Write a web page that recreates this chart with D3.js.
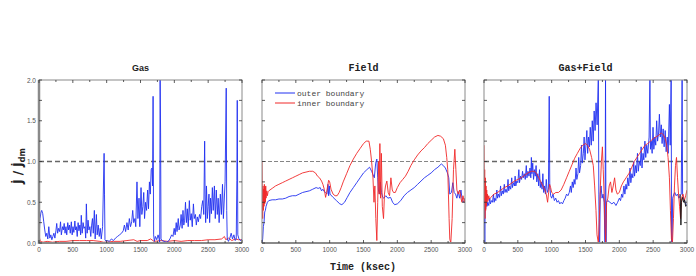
<!DOCTYPE html>
<html>
<head>
<meta charset="utf-8">
<script src="https://cdn.jsdelivr.net/npm/d3@7"></script>
<style>
  body { margin: 0; background: #fff; }
  svg { display: block; }
  .tick-lbl { font: 6.5px "Liberation Sans", sans-serif; fill: #555; }
  .mono { font-family: "Liberation Mono", "DejaVu Sans Mono", monospace; }
</style>
</head>
<body>
<svg id="chart"></svg>
<script>
// Gas/Field/Gas+Field accretion rate ratios
const xTicks = [0, 500, 1000, 1500, 2000, 2500, 3000];
const yTicks = [0, 0.5, 1.0, 1.5, 2.0];
const titles = ["Gas", "Field", "Gas+Field"];
const legendLabels = ["outer boundary", "inner boundary"];

const gasOuter = [[0,0.05],[15,0.3],[30,0.38],[40,0.4],[55,0.36],[70,0.26],[85,0.16],[100,0.08],[115,0.12],[130,0.05],[145,0.2],[160,0.06],[175,0.1],[190,0.04],[205,0.08],[220,0.12],[235,0.06],[250,0.15],[262,0.24],[275,0.12],[290,0.18],[305,0.14],[318,0.26],[330,0.1],[348,0.2],[360,0.16],[372,0.24],[385,0.12],[398,0.2],[410,0.1],[425,0.25],[438,0.16],[450,0.22],[462,0.12],[478,0.26],[490,0.1],[502,0.2],[515,0.13],[530,0.27],[540,0.16],[552,0.2],[565,0.08],[578,0.25],[590,0.15],[604,0.22],[615,0.1],[625,0.34],[638,0.12],[652,0.25],[664,0.18],[680,0.2],[690,0.06],[700,0.48],[712,0.12],[725,0.28],[738,0.16],[752,0.2],[765,0.08],[778,0.22],[790,0.3],[802,0.12],[818,0.4],[830,0.05],[848,0.35],[860,0.1],[875,0.22],[890,0.08],[905,0.18],[920,0.05],[940,0.2],[962,1.1],[968,0.6],[975,0.04],[990,0.02],[1010,0.03],[1040,0.02],[1070,0.05],[1100,0.03],[1130,0.06],[1160,0.08],[1190,0.1],[1220,0.12],[1245,0.15],[1262,0.22],[1280,0.14],[1300,0.25],[1318,0.16],[1335,0.3],[1352,0.2],[1370,0.26],[1385,0.4],[1400,0.25],[1418,0.3],[1430,0.2],[1448,0.75],[1462,0.3],[1478,0.55],[1490,0.2],[1508,0.68],[1520,0.35],[1535,0.45],[1548,0.62],[1560,0.3],[1575,0.5],[1590,0.4],[1605,0.65],[1618,0.42],[1632,0.75],[1645,0.6],[1658,0.9],[1670,0.92],[1678,0.7],[1686,1.8],[1694,0.1],[1705,0.02],[1720,0.08],[1740,0.04],[1760,0.1],[1775,0.05],[1784,0.0],[1790,2.05],[1797,1.35],[1803,0.05],[1820,0.03],[1850,0.02],[1880,0.01],[1910,0.02],[1935,0.05],[1960,0.1],[1980,0.08],[1998,0.18],[2012,0.1],[2028,0.25],[2040,0.14],[2058,0.3],[2070,0.16],[2088,0.22],[2100,0.35],[2115,0.18],[2128,0.4],[2140,0.22],[2152,0.28],[2165,0.5],[2178,0.25],[2192,0.42],[2205,0.2],[2222,0.52],[2235,0.28],[2250,0.36],[2265,0.2],[2282,0.48],[2295,0.3],[2312,0.35],[2325,0.22],[2340,0.32],[2355,0.26],[2372,0.35],[2388,0.3],[2405,0.45],[2420,0.52],[2435,0.35],[2448,1.25],[2455,0.6],[2463,0.25],[2475,0.7],[2488,0.3],[2500,0.45],[2512,0.6],[2522,0.25],[2535,0.55],[2548,0.36],[2562,0.68],[2575,0.4],[2592,0.7],[2605,0.3],[2620,0.65],[2635,0.35],[2648,0.55],[2662,0.25],[2680,0.6],[2695,0.35],[2712,0.72],[2725,0.3],[2750,0.75],[2767,1.9],[2774,0.4],[2782,0.05],[2800,0.02],[2820,0.06],[2840,0.12],[2860,0.05],[2880,0.1],[2900,0.03],[2915,0.05],[2924,0.77],[2930,1.75],[2938,0.1],[2955,0.05],[2978,0.03],[3000,0.05]];
const gasInner = [[0,0.28],[8,0.06],[20,0.02],[60,0.01],[120,0.02],[200,0.01],[300,0.02],[400,0.02],[500,0.03],[600,0.03],[700,0.03],[800,0.03],[900,0.02],[950,0.01],[1000,0.01],[1100,0.02],[1200,0.02],[1300,0.03],[1400,0.04],[1450,0.02],[1500,0.03],[1600,0.03],[1650,0.05],[1700,0.02],[1800,0.03],[1900,0.02],[2000,0.03],[2100,0.02],[2200,0.03],[2300,0.03],[2400,0.03],[2500,0.04],[2600,0.04],[2700,0.05],[2740,0.08],[2760,0.04],[2800,0.06],[2850,0.03],[2900,0.05],[2950,0.04],[3000,0.04]];

const fieldOuter = [[0,0.0],[10,0.05],[20,0.2],[30,0.25],[40,0.38],[50,0.4],[60,0.45],[80,0.5],[100,0.52],[150,0.53],[200,0.53],[250,0.54],[300,0.54],[350,0.55],[400,0.57],[450,0.58],[500,0.58],[550,0.6],[600,0.62],[650,0.63],[700,0.64],[750,0.66],[800,0.68],[830,0.67],[860,0.68],[880,0.64],[900,0.66],[920,0.63],[940,0.62],[960,0.6],[975,0.72],[985,0.58],[995,0.7],[1005,0.6],[1050,0.56],[1100,0.52],[1150,0.48],[1180,0.47],[1220,0.5],[1260,0.56],[1300,0.62],[1350,0.68],[1400,0.74],[1450,0.8],[1500,0.86],[1550,0.9],[1590,0.93],[1620,0.88],[1640,0.84],[1660,0.8],[1680,0.98],[1697,1.03],[1710,0.8],[1720,0.65],[1735,0.6],[1750,0.75],[1765,0.62],[1785,0.56],[1800,0.55],[1830,0.58],[1860,0.55],[1900,0.56],[1930,0.5],[1960,0.47],[2000,0.48],[2050,0.52],[2100,0.58],[2150,0.62],[2200,0.65],[2250,0.68],[2300,0.72],[2350,0.76],[2400,0.8],[2450,0.83],[2500,0.86],[2550,0.9],[2600,0.93],[2650,0.97],[2680,0.95],[2710,0.92],[2740,0.86],[2760,0.8],[2775,0.6],[2800,0.62],[2820,0.74],[2840,0.62],[2860,0.6],[2880,0.55],[2900,0.63],[2920,0.55],[2940,0.65],[2960,0.52],[2980,0.5],[3000,0.55]];
const fieldInner = [[0,1.0],[5,0.6],[10,0.3],[15,0.7],[20,0.4],[25,0.66],[30,0.45],[35,0.72],[40,0.48],[45,0.68],[50,0.5],[55,0.7],[60,0.55],[70,0.64],[80,0.58],[90,0.63],[100,0.64],[150,0.67],[200,0.7],[250,0.72],[300,0.74],[350,0.76],[400,0.78],[450,0.8],[500,0.82],[550,0.84],[600,0.86],[650,0.87],[700,0.88],[750,0.88],[790,0.86],[820,0.82],[850,0.8],[880,0.76],[900,0.72],[920,0.66],[940,0.56],[955,0.62],[970,0.7],[985,0.77],[1000,0.75],[1020,0.66],[1050,0.6],[1080,0.58],[1110,0.58],[1140,0.62],[1170,0.68],[1200,0.75],[1250,0.85],[1300,0.95],[1350,1.03],[1400,1.1],[1450,1.16],[1500,1.22],[1540,1.25],[1580,1.25],[1600,1.15],[1620,1.0],[1640,0.8],[1655,0.5],[1668,0.7],[1682,0.3],[1697,0.03],[1710,0.5],[1722,1.0],[1732,0.6],[1742,1.22],[1752,0.55],[1764,1.1],[1778,0.45],[1796,0.3],[1810,0.6],[1825,0.7],[1845,0.76],[1865,0.62],[1885,0.58],[1905,0.8],[1925,0.65],[1944,0.62],[1970,0.62],[2000,0.68],[2040,0.74],[2080,0.78],[2120,0.82],[2160,0.88],[2200,0.95],[2250,1.02],[2300,1.08],[2350,1.13],[2400,1.17],[2450,1.22],[2500,1.26],[2550,1.3],[2600,1.32],[2640,1.31],[2680,1.28],[2710,1.2],[2730,1.05],[2745,0.9],[2755,0.6],[2765,0.3],[2775,0.05],[2790,0.0],[2810,0.3],[2830,0.9],[2850,1.15],[2865,0.9],[2880,0.65],[2900,0.6],[2920,0.65],[2940,0.55],[2955,0.5],[2970,0.58],[2990,0.5],[3000,0.55]];

const bothOuter = [[0,0.55],[6,0.4],[12,0.0],[18,0.5],[25,0.42],[35,0.58],[45,0.45],[55,0.5],[70,0.46],[85,0.55],[95,0.48],[110,0.52],[125,0.5],[140,0.6],[150,0.5],[160,0.55],[175,0.52],[190,0.65],[200,0.55],[215,0.6],[230,0.56],[245,0.7],[255,0.58],[270,0.64],[285,0.6],[300,0.72],[310,0.62],[325,0.66],[340,0.62],[355,0.78],[365,0.64],[380,0.7],[395,0.66],[410,0.8],[420,0.68],[435,0.74],[450,0.7],[460,0.82],[470,0.7],[485,0.76],[500,0.74],[515,0.9],[525,0.74],[540,0.82],[555,0.78],[570,0.88],[580,0.8],[595,0.85],[610,0.78],[625,0.95],[635,0.8],[650,0.88],[665,0.82],[680,0.92],[692,0.8],[700,1.05],[708,0.85],[720,0.98],[732,0.78],[745,0.9],[758,0.82],[770,0.95],[780,0.75],[795,0.85],[808,0.7],[820,0.9],[832,0.68],[845,0.75],[858,0.66],[870,0.85],[882,0.62],[895,0.7],[908,0.6],[920,0.78],[935,0.62],[952,0.66],[964,1.8],[972,0.7],[985,0.58],[1000,0.55],[1020,0.6],[1040,0.52],[1060,0.55],[1080,0.5],[1100,0.52],[1120,0.48],[1140,0.5],[1160,0.48],[1180,0.52],[1200,0.55],[1220,0.6],[1240,0.58],[1260,0.62],[1278,0.7],[1290,0.62],[1305,0.75],[1318,0.68],[1332,0.78],[1345,0.72],[1360,0.92],[1372,0.78],[1388,0.85],[1400,1.05],[1412,0.86],[1428,0.95],[1440,1.2],[1452,0.98],[1468,1.1],[1480,1.3],[1492,1.02],[1508,1.22],[1520,1.38],[1532,1.1],[1545,1.3],[1558,1.18],[1570,1.42],[1585,1.2],[1600,1.5],[1614,1.25],[1628,1.62],[1642,1.38],[1656,1.72],[1672,1.45],[1690,2.05],[1697,0.6],[1703,0.0],[1710,0.0],[1718,0.6],[1730,0.7],[1745,0.55],[1760,0.6],[1775,0.5],[1788,0.0],[1796,2.05],[1803,0.0],[1810,0.5],[1830,0.52],[1860,0.5],[1890,0.48],[1920,0.5],[1950,0.46],[1975,0.5],[2000,0.55],[2018,0.52],[2035,0.6],[2050,0.56],[2068,0.7],[2082,0.6],[2098,0.72],[2110,0.66],[2125,0.8],[2140,0.7],[2158,0.92],[2170,0.74],[2185,0.85],[2200,0.8],[2212,1.0],[2225,0.82],[2240,0.95],[2252,0.86],[2268,1.1],[2280,0.88],[2295,1.0],[2310,0.95],[2322,1.18],[2335,0.92],[2350,1.1],[2362,1.02],[2378,1.25],[2390,1.05],[2405,1.2],[2420,1.1],[2440,1.3],[2452,2.05],[2460,1.15],[2472,1.25],[2485,1.1],[2498,1.42],[2510,1.15],[2525,1.3],[2538,1.2],[2552,1.5],[2565,1.25],[2580,1.35],[2592,1.58],[2605,1.3],[2620,1.45],[2632,1.22],[2648,1.4],[2662,1.18],[2678,1.38],[2692,1.12],[2708,1.3],[2722,1.1],[2740,1.7],[2752,1.2],[2766,2.05],[2772,0.0],[2780,0.0],[2788,0.55],[2805,0.6],[2820,0.62],[2840,0.58],[2860,0.6],[2880,0.55],[2900,0.58],[2915,0.6],[2928,2.05],[2935,0.6],[2950,0.55],[2970,0.5],[2985,0.48],[3000,0.45]];
const bothInner = [[0,1.2],[5,0.5],[10,0.9],[15,0.3],[20,0.8],[25,0.4],[30,0.7],[35,0.45],[40,0.65],[45,0.5],[50,0.6],[60,0.52],[70,0.58],[80,0.54],[100,0.56],[150,0.6],[200,0.62],[250,0.65],[300,0.68],[350,0.7],[400,0.73],[450,0.76],[500,0.78],[550,0.8],[600,0.83],[650,0.86],[700,0.88],[750,0.88],[780,0.85],[810,0.8],[840,0.75],[870,0.7],[900,0.65],[920,0.6],[940,0.5],[955,0.62],[970,0.72],[985,0.68],[1000,0.62],[1030,0.6],[1060,0.62],[1100,0.62],[1140,0.65],[1180,0.72],[1220,0.8],[1260,0.88],[1300,0.96],[1340,1.04],[1380,1.1],[1420,1.16],[1460,1.2],[1500,1.22],[1530,1.2],[1560,1.15],[1590,1.05],[1615,0.95],[1635,0.7],[1655,0.4],[1670,0.1],[1690,0.0],[1705,0.3],[1720,0.7],[1735,1.0],[1750,1.18],[1762,0.9],[1775,0.6],[1788,0.2],[1798,0.0],[1812,0.5],[1830,0.55],[1850,0.7],[1870,0.75],[1890,0.62],[1910,0.7],[1930,0.8],[1950,0.65],[1970,0.6],[2000,0.62],[2030,0.7],[2060,0.75],[2100,0.8],[2140,0.85],[2180,0.92],[2220,1.0],[2260,1.05],[2300,1.1],[2340,1.15],[2380,1.2],[2420,1.22],[2460,1.25],[2500,1.28],[2540,1.3],[2580,1.32],[2620,1.35],[2650,1.33],[2680,1.28],[2700,1.2],[2720,1.05],[2740,0.8],[2755,0.4],[2770,0.05],[2785,0.0],[2800,0.3],[2815,0.7],[2830,0.95],[2845,1.05],[2860,0.8],[2875,0.6],[2890,0.45],[2905,0.3],[2920,0.55],[2940,0.6],[2960,0.52],[2980,0.58],[3000,0.65]];
const bothTail = [[2895,0.6],[2902,0.55],[2910,0.22],[2918,0.5],[2935,0.56],[2950,0.5],[2965,0.53],[2980,0.45],[3000,0.47]];

const W = 696, H = 276;
const plotTop = 80, plotBottom = 243;
const panelLefts = [39, 262, 484];
const panelW = 203;
const blue = "#2030f0", red = "#f02828";

const svg = d3.select("#chart").attr("width", W).attr("height", H);

const y = d3.scaleLinear().domain([0, 2]).range([plotBottom, plotTop]);

const series = [
  [{ d: gasInner, c: red }, { d: gasOuter, c: blue }],
  [{ d: fieldOuter, c: blue }, { d: fieldInner, c: red }],
  [{ d: bothOuter, c: blue }, { d: bothInner, c: red }, { d: bothTail, c: "#111" }]
];

panelLefts.forEach((left, i) => {
  const x = d3.scaleLinear().domain([0, 3000]).range([left, left + panelW]);
  const g = svg.append("g");

  g.append("clipPath").attr("id", "clip" + i)
    .append("rect").attr("x", left).attr("y", plotTop).attr("width", panelW).attr("height", plotBottom - plotTop);

  // dashed reference line at 1.0
  g.append("line")
    .attr("x1", left).attr("x2", left + panelW)
    .attr("y1", y(1)).attr("y2", y(1))
    .attr("stroke", "#666")
    .attr("stroke-width", i === 1 ? 0.8 : 1.6)
    .attr("stroke-dasharray", i === 1 ? "4,2" : "5,3");

  const line = d3.line().x(d => x(d[0])).y(d => y(d[1]));
  const lines = g.append("g").attr("clip-path", `url(#clip${i})`);
  series[i].forEach(s => {
    lines.append("path")
      .attr("d", line(s.d))
      .attr("fill", "none")
      .attr("stroke", s.c)
      .attr("stroke-width", 0.9);
  });

  // frame
  g.append("rect")
    .attr("x", left).attr("y", plotTop).attr("width", panelW).attr("height", plotBottom - plotTop)
    .attr("fill", "none").attr("stroke", "#8a8a8a").attr("stroke-width", 1);
  if (i === 0) {
    g.append("line").attr("x1", left).attr("x2", left).attr("y1", plotTop).attr("y2", plotBottom + 1)
      .attr("stroke", "#8a8a8a").attr("stroke-width", 2.5);
  }
  g.append("line").attr("x1", left).attr("x2", left + panelW).attr("y1", plotBottom).attr("y2", plotBottom)
    .attr("stroke", "#8a8a8a").attr("stroke-width", 2);

  // inward ticks
  const xMinor = d3.range(0, 3001, 250);
  const yMinor = d3.range(0, 2.001, 0.25);
  const tickG = g.append("g").attr("stroke", "#333").attr("stroke-width", 0.8);
  xMinor.forEach(t => {
    const len = t % 500 === 0 ? 3 : 2;
    tickG.append("line").attr("x1", x(t)).attr("x2", x(t)).attr("y1", plotTop).attr("y2", plotTop + len);
    tickG.append("line").attr("x1", x(t)).attr("x2", x(t)).attr("y1", plotBottom).attr("y2", plotBottom - len);
  });
  yMinor.forEach(v => {
    tickG.append("line").attr("x1", left).attr("x2", left + 3).attr("y1", y(v)).attr("y2", y(v));
    tickG.append("line").attr("x1", left + panelW).attr("x2", left + panelW - 3).attr("y1", y(v)).attr("y2", y(v));
  });

  g.selectAll(".xl").data(xTicks).enter().append("text")
    .attr("class", "tick-lbl")
    .attr("x", d => x(d)).attr("y", plotBottom + 9)
    .attr("text-anchor", "middle")
    .text(d => d);

  if (i === 0) {
    g.selectAll(".yl").data(yTicks).enter().append("text")
      .attr("class", "tick-lbl")
      .attr("x", left - 3).attr("y", d => y(d) + 2.5)
      .attr("text-anchor", "end")
      .text(d => d.toFixed(1));
  }

  g.append("text")
    .attr("class", i === 0 ? "" : "mono")
    .attr("x", left + panelW / 2).attr("y", 71)
    .attr("text-anchor", "middle")
    .attr("font-weight", "bold")
    .attr("font-size", i === 0 ? 9 : 10)
    .attr("font-family", i === 0 ? "Liberation Sans, sans-serif" : null)
    .attr("fill", "#222")
    .text(titles[i]);
});

// legend in the Field panel
[blue, red].forEach((c, k) => {
  const ly = 93 + k * 10;
  svg.append("line").attr("x1", 275).attr("x2", 295).attr("y1", ly).attr("y2", ly)
    .attr("stroke", c).attr("stroke-width", 1);
  svg.append("text").attr("class", "mono")
    .attr("x", 297).attr("y", ly + 2.5)
    .attr("font-size", 8).attr("fill", "#444")
    .text(legendLabels[k]);
});

// axis titles
svg.append("text").attr("class", "mono")
  .attr("x", 363).attr("y", 270)
  .attr("text-anchor", "middle")
  .attr("font-weight", "bold").attr("font-size", 10).attr("fill", "#222")
  .text("Time (ksec)");

const yl = svg.append("text")
  .attr("transform", "translate(22,166) rotate(-90)")
  .attr("text-anchor", "middle")
  .attr("font-family", "DejaVu Sans, sans-serif")
  .attr("font-weight", "bold").attr("font-size", 12).attr("fill", "#222");
yl.append("tspan").text("J\u0307 / J\u0307");
yl.append("tspan").attr("font-size", 8).attr("dy", 3).text("dm");
</script>
</body>
</html>
